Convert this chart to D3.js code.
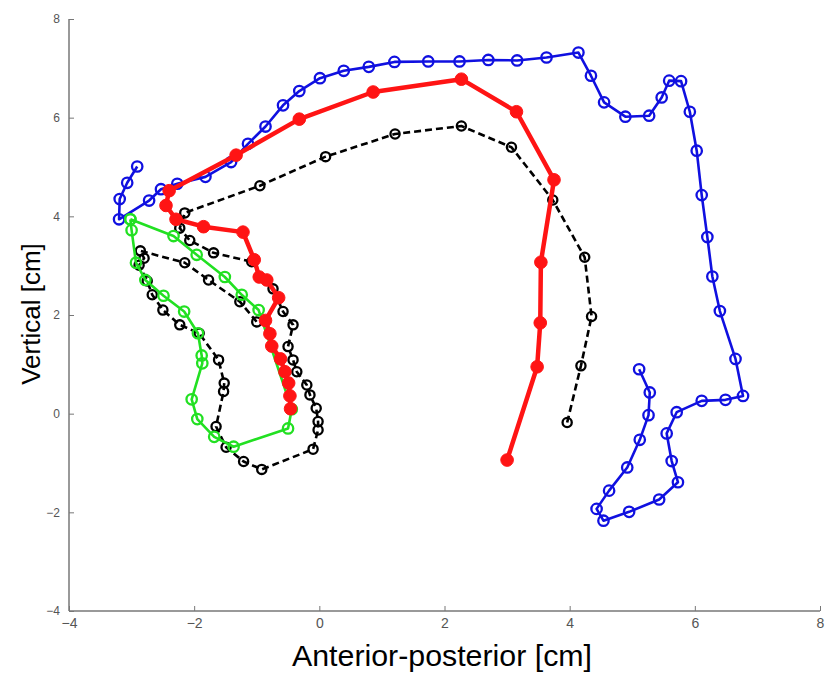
<!DOCTYPE html>
<html>
<head>
<meta charset="utf-8">
<script src="https://cdn.jsdelivr.net/npm/d3@7"></script>
<style>
  body { margin: 0; background: #fff; }
  svg { display: block; }
  .tick text { fill: #555; }
</style>
</head>
<body>
<svg id="chart" width="827" height="673"></svg>
<script>
// Tongue/jaw trajectories, x = anterior-posterior, y = vertical (cm)
var blueX = [-2.91, -3.07, -3.19, -3.20, -2.72, -2.53, -2.27, -1.82, -1.41, -1.14, -0.86, -0.58, -0.32, 0.01, 0.39, 0.79, 1.20, 1.74, 2.24, 2.70, 3.16, 3.63, 4.14, 4.34, 4.55, 4.89, 5.27, 5.47, 5.59, 5.78, 5.92, 6.03, 6.11, 6.20, 6.28, 6.40, 6.65, 6.77, 6.49, 6.11, 5.71, 5.55, 5.63, 5.73, 5.43, 4.95, 4.54, 4.43, 4.63, 4.92, 5.12, 5.26, 5.28, 5.11];
var blueY = [5.01, 4.68, 4.35, 3.94, 4.32, 4.55, 4.66, 4.80, 5.10, 5.47, 5.82, 6.25, 6.54, 6.80, 6.95, 7.03, 7.13, 7.14, 7.14, 7.17, 7.16, 7.22, 7.32, 6.85, 6.31, 6.02, 6.04, 6.41, 6.75, 6.74, 6.12, 5.33, 4.43, 3.58, 2.78, 2.08, 1.11, 0.36, 0.28, 0.26, 0.03, -0.40, -0.96, -1.39, -1.74, -1.99, -2.17, -1.93, -1.56, -1.09, -0.53, -0.03, 0.43, 0.90];

var blackX = [3.96, 4.18, 4.35, 4.24, 3.73, 3.07, 2.27, 1.21, 0.10, -0.95, -2.15, -2.23, -2.07, -1.69, -1.08, -0.74, -0.58, -0.42, -0.50, -0.42, -0.36, -0.20, -0.15, -0.05, -0.02, -0.02, -0.10, -0.92, -1.21, -1.49, -1.65, -1.53, -1.52, -1.61, -1.92, -2.23, -2.50, -2.67, -2.75, -2.88, -2.80, -2.86, -2.15, -1.77, -1.27, -1.00];
var blackY = [-0.18, 0.97, 1.97, 3.17, 4.33, 5.40, 5.83, 5.67, 5.21, 4.62, 4.07, 3.76, 3.51, 3.26, 3.08, 2.53, 2.07, 1.80, 1.36, 1.09, 0.85, 0.58, 0.38, 0.11, -0.16, -0.33, -0.72, -1.13, -0.97, -0.68, -0.26, 0.45, 0.62, 1.09, 1.63, 1.80, 2.10, 2.41, 2.69, 3.01, 3.15, 3.30, 3.06, 2.71, 2.27, 1.86];

var greenX = [-3.02, -3.00, -2.93, -2.78, -2.49, -2.16, -1.94, -1.88, -1.87, -2.04, -1.95, -1.68, -1.37, -0.50, -0.44, -0.97, -1.24, -1.51, -1.96, -2.33, -3.02];
var greenY = [3.94, 3.72, 3.06, 2.71, 2.39, 2.07, 1.63, 1.18, 1.02, 0.29, -0.11, -0.47, -0.67, -0.30, 0.09, 2.10, 2.41, 2.77, 3.22, 3.60, 3.94];

var redX = [3.00, 3.48, 3.53, 3.54, 3.75, 3.15, 2.27, 0.86, -0.32, -1.33, -2.40, -2.45, -2.29, -1.85, -1.22, -1.04, -0.96, -0.84, -0.65, -0.86, -0.79, -0.76, -0.62, -0.55, -0.49, -0.47, -0.46];
var redY = [-0.94, 0.95, 1.84, 3.07, 4.74, 6.12, 6.78, 6.52, 5.97, 5.24, 4.52, 4.22, 3.94, 3.79, 3.68, 3.12, 2.77, 2.71, 2.35, 1.89, 1.62, 1.37, 1.11, 0.85, 0.62, 0.36, 0.10];

var tickValues = [-4, -2, 0, 2, 4, 6, 8];

(function() {

var svg = d3.select('#chart');
var plotLeft = 69, plotRight = 820, plotTop = 19, plotBottom = 611;

var x = d3.scaleLinear().domain([-4, 8]).range([plotLeft, plotRight]);
var y = d3.scaleLinear().domain([-4, 8]).range([plotBottom, plotTop]);

function fmt(d) { return d < 0 ? '\u2212' + Math.abs(d) : d; }

// Axes (box off, ticks pointing in)
var xAxis = d3.axisBottom(x).tickValues(tickValues).tickSize(-5).tickPadding(7).tickFormat(fmt);
var gx = svg.append('g').attr('transform', 'translate(0,' + plotBottom + ')').call(xAxis);
gx.selectAll('text')
    .style('font-family', '"Liberation Sans Narrow", "Liberation Sans", sans-serif')
    .style('font-size', '14px');

var yAxis = d3.axisLeft(y).tickValues(tickValues).tickSize(-5).tickPadding(9).tickFormat(fmt);
var gy = svg.append('g').attr('transform', 'translate(' + plotLeft + ',0)').call(yAxis);
gy.selectAll('text')
    .style('font-family', '"Liberation Sans", Arial, sans-serif')
    .style('font-size', '12px');

svg.selectAll('.domain').attr('stroke', '#777').attr('stroke-width', 1.5);
svg.selectAll('.tick line').attr('stroke', '#777');
gy.select('.domain').attr('d', 'M0,' + plotTop + 'V' + plotBottom);
gx.select('.domain').attr('d', 'M' + plotLeft + ',0H' + plotRight);

// Series
function zip(xs, ys) {
  return xs.map(function(v, i){ return [v, ys[i]]; });
}
var line = d3.line()
    .x(function(d){ return x(d[0]); })
    .y(function(d){ return y(d[1]); });

function drawSeries(data, opt) {
  var g = svg.append('g');
  g.append('path')
      .datum(data)
      .attr('d', line)
      .attr('fill', 'none')
      .attr('stroke', opt.color)
      .attr('stroke-width', opt.width)
      .attr('stroke-dasharray', opt.dash || null)
      .attr('stroke-linejoin', 'round');
  g.selectAll('circle')
      .data(data)
    .enter().append('circle')
      .attr('cx', function(d){ return x(d[0]); })
      .attr('cy', function(d){ return y(d[1]); })
      .attr('r', opt.r)
      .attr('fill', opt.filled ? opt.color : 'none')
      .attr('stroke', opt.color)
      .attr('stroke-width', opt.filled ? 1 : 2.3);
}

drawSeries(zip(blueX, blueY), { color: '#1010e0', width: 2.6, r: 5.2 });
drawSeries(zip(blackX, blackY), { color: '#000', width: 2.6, r: 4.6, dash: '7,4' });
drawSeries(zip(greenX, greenY), { color: '#22e022', width: 2.6, r: 5.2 });
drawSeries(zip(redX, redY), { color: '#ff1414', width: 4.5, r: 6.3, filled: true });

// Axis titles
svg.append('text')
    .attr('transform', 'translate(40,314) rotate(-90)')
    .attr('text-anchor', 'middle')
    .style('font-family', '"Liberation Sans", Arial, sans-serif')
    .style('font-size', '26px')
    .text('Vertical [cm]');

svg.append('text')
    .attr('x', 292)
    .attr('y', 666)
    .attr('textLength', 300)
    .attr('lengthAdjust', 'spacingAndGlyphs')
    .style('font-family', '"Liberation Sans Narrow", "Liberation Sans", sans-serif')
    .style('font-size', '30px')
    .text('Anterior-posterior [cm]');

})();
</script>
</body>
</html>
